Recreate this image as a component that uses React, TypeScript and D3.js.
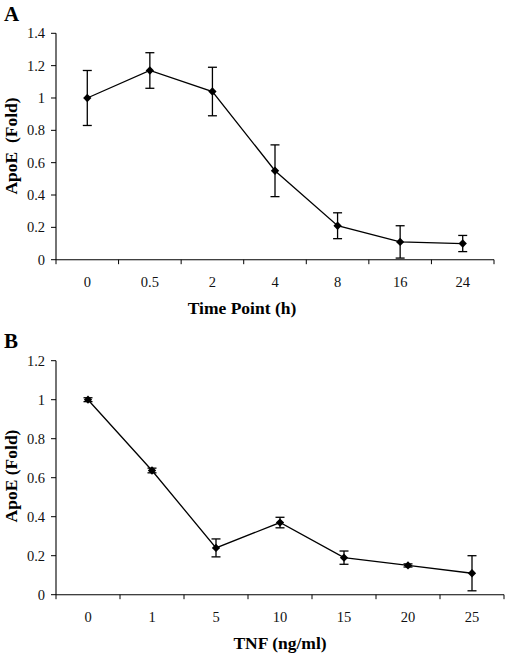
import React from "react";
import * as d3 from "d3";

const catsA = ["0", "0.5", "2", "4", "8", "16", "24"];
const meanA = [1.0, 1.17, 1.04, 0.55, 0.21, 0.11, 0.1];
const errA = [0.17, 0.11, 0.15, 0.16, 0.08, 0.1, 0.05];
const ticksA = [0, 0.2, 0.4, 0.6, 0.8, 1, 1.2, 1.4];

const catsB = ["0", "1", "5", "10", "15", "20", "25"];
const meanB = [1.0, 0.637, 0.24, 0.37, 0.19, 0.15, 0.11];
const errB = [0.01, 0.012, 0.046, 0.027, 0.034, 0.008, 0.09];
const ticksB = [0, 0.2, 0.4, 0.6, 0.8, 1, 1.2];

const FONT = "'Liberation Serif', 'Times New Roman', serif";

type PanelProps = {
  letter: string;
  letterY: number;
  cats: string[];
  mean: number[];
  err: number[];
  ticks: number[];
  yMax: number;
  x0: number;
  x1: number;
  yTop: number;
  yBot: number;
  xTitle: string;
  xTitleX: number;
  xTitleY: number;
  yTitle: string;
  yTitleY: number;
  tickLabelY: number;
};

function Panel(p: PanelProps) {
  const x = d3.scaleBand<string>().domain(p.cats).range([p.x0, p.x1]).padding(0);
  const y = d3.scaleLinear().domain([0, p.yMax]).range([p.yBot, p.yTop]);
  const cx = (c: string) => (x(c) as number) + x.bandwidth() / 2;
  const pts: [number, number][] = p.cats.map((c, i) => [cx(c), y(p.mean[i])]);
  const line = d3.line()(pts) as string;
  const bounds = p.cats.map((c) => x(c) as number).concat([p.x1]);
  const diamond = d3.symbol().type(d3.symbolDiamond2).size(44)() as string;
  return (
    <g>
      <text x={4} y={p.letterY} fontFamily={FONT} fontWeight="bold" fontSize={21} fill="#000">
        {p.letter}
      </text>
      <line x1={p.x0} x2={p.x0} y1={p.yTop} y2={p.yBot} stroke="#000" strokeWidth={1.1} />
      {p.ticks.map((t) => (
        <g key={"yt" + t}>
          <line x1={p.x0 - 5} x2={p.x0} y1={y(t)} y2={y(t)} stroke="#000" strokeWidth={1} />
          <text
            x={p.x0 - 11}
            y={y(t)}
            dy="0.35em"
            textAnchor="end"
            fontFamily={FONT}
            fontSize={14.5}
            fill="#111"
          >
            {String(t)}
          </text>
        </g>
      ))}
      <line x1={p.x0} x2={p.x1} y1={p.yBot} y2={p.yBot} stroke="#000" strokeWidth={1.1} />
      {bounds.map((b, i) => (
        <line key={"xt" + i} x1={b} x2={b} y1={p.yBot} y2={p.yBot + 4.5} stroke="#000" strokeWidth={1} />
      ))}
      {p.cats.map((c) => (
        <text
          key={"xl" + c}
          x={cx(c)}
          y={p.tickLabelY}
          textAnchor="middle"
          fontFamily={FONT}
          fontSize={14.5}
          fill="#111"
        >
          {c}
        </text>
      ))}
      {p.cats.map((c, i) => {
        const xc = cx(c);
        const yu = y(p.mean[i] + p.err[i]);
        const yl = y(p.mean[i] - p.err[i]);
        return (
          <g key={"e" + c} stroke="#000" strokeWidth={1.3}>
            <line x1={xc} x2={xc} y1={yu} y2={yl} />
            <line x1={xc - 4.5} x2={xc + 4.5} y1={yu} y2={yu} />
            <line x1={xc - 4.5} x2={xc + 4.5} y1={yl} y2={yl} />
          </g>
        );
      })}
      <path d={line} fill="none" stroke="#000" strokeWidth={1.3} />
      {pts.map(([px, py], i) => (
        <path key={"m" + i} d={diamond} transform={`translate(${px},${py})`} fill="#000" />
      ))}
      <text
        x={p.xTitleX}
        y={p.xTitleY}
        textAnchor="middle"
        fontFamily={FONT}
        fontWeight="bold"
        fontSize={17.5}
        fill="#000"
      >
        {p.xTitle}
      </text>
      <text
        transform={`translate(16.5,${p.yTitleY}) rotate(-90)`}
        textAnchor="middle"
        fontFamily={FONT}
        fontWeight="bold"
        fontSize={17.5}
        fill="#000"
        style={{ whiteSpace: "pre" }}
      >
        {p.yTitle}
      </text>
    </g>
  );
}

export default function App() {
  return (
    <svg
      width={506}
      height={656}
      style={{ position: "absolute", left: 0, top: 0, background: "#fff" }}
    >
      <rect width={506} height={656} fill="#fff" />
      <Panel
        letter="A"
        letterY={21}
        cats={catsA}
        mean={meanA}
        err={errA}
        ticks={ticksA}
        yMax={1.4}
        x0={56}
        x1={494}
        yTop={33.3}
        yBot={259.7}
        xTitle="Time Point (h)"
        xTitleX={242}
        xTitleY={314}
        yTitle={"ApoE  (Fold)"}
        yTitleY={146}
        tickLabelY={286.7}
      />
      <Panel
        letter="B"
        letterY={348.3}
        cats={catsB}
        mean={meanB}
        err={errB}
        ticks={ticksB}
        yMax={1.2}
        x0={56}
        x1={504}
        yTop={360.7}
        yBot={594.7}
        xTitle="TNF (ng/ml)"
        xTitleX={280}
        xTitleY={648.7}
        yTitle="ApoE (Fold)"
        yTitleY={476}
        tickLabelY={621.7}
      />
    </svg>
  );
}
